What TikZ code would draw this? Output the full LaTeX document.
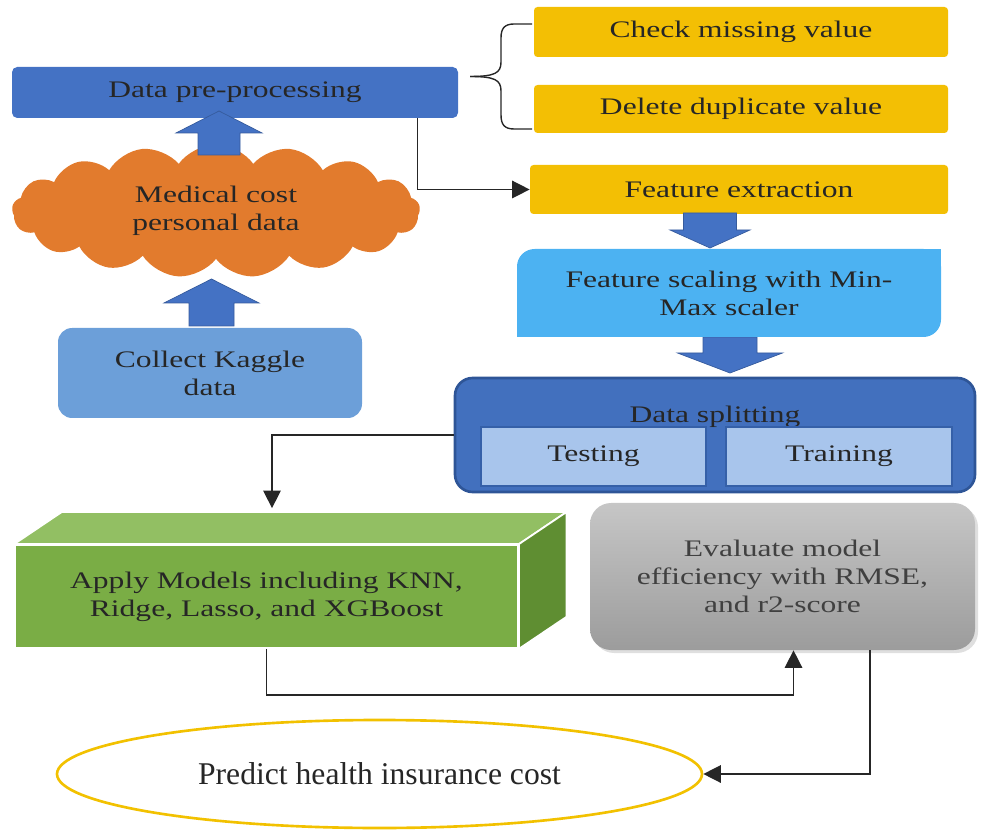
\documentclass[tikz,border=0pt]{standalone}
\usepackage{fontspec}
\setmainfont{Liberation Serif}[FakeStretch=1.33]
\newfontfamily\plainserif{Liberation Serif}
\usetikzlibrary{shapes.symbols,shapes.geometric,arrows.meta,shadows}

\definecolor{prepblue}{HTML}{4472C4}
\definecolor{stepgold}{HTML}{F3BF04}
\definecolor{cloudorange}{HTML}{E27B2D}
\definecolor{kaggleblue}{HTML}{6C9FD9}
\definecolor{scaleblue}{HTML}{4CB2F2}
\definecolor{splitblue}{HTML}{4270BE}
\definecolor{splitedge}{HTML}{2E5597}
\definecolor{partblue}{HTML}{A8C5EC}
\definecolor{partedge}{HTML}{3560A8}
\definecolor{topgreen}{HTML}{92BF63}
\definecolor{frontgreen}{HTML}{7AAD45}
\definecolor{sidegreen}{HTML}{5F8E32}
\definecolor{evaltop}{HTML}{C6C6C6}
\definecolor{evalbot}{HTML}{9C9C9C}
\definecolor{goldline}{HTML}{F2C100}

\tikzset{
    txt/.style={font=\fontsize{13.5}{16}\selectfont, text=black!85, align=center},
    box/.style={txt, rectangle, inner sep=0pt},
    line/.style={draw=black!85, line width=0.8pt, -{Triangle[length=10pt,width=10pt]}},
    fat/.style={fill=prepblue, draw=prepblue!80!black, line width=0.4pt},
}

\begin{document}
\begin{tikzpicture}
    \useasboundingbox (0,0) rectangle (19.7,16.6);

    % 数据预处理
    \node[box, fill=prepblue, rounded corners=3pt, minimum width=8.92cm, minimum height=1.02cm] (prep) at (4.70,14.75) {Data pre-processing};

    % 右侧黄色步骤
    \node[box, fill=stepgold, rounded corners=2pt, minimum width=8.28cm, minimum height=1.0cm] (check) at (14.82,15.96) {Check missing value};
    \node[box, fill=stepgold, rounded corners=2pt, minimum width=8.28cm, minimum height=0.96cm] (dup) at (14.82,14.42) {Delete duplicate value};
    \node[box, fill=stepgold, rounded corners=2pt, minimum width=8.36cm, minimum height=0.98cm] (feat) at (14.78,12.81) {Feature extraction};

    % 大括号
    \draw[line width=0.8pt, black!85] (10.64,16.12) -- (10.28,16.12) .. controls (10.08,16.12) and (10.02,16.02) .. (10.02,15.84) -- (10.02,15.36) .. controls (10.02,15.14) and (9.9,15.07) .. (9.4,15.07);
    \draw[line width=0.8pt, black!85] (10.64,14.02) -- (10.28,14.02) .. controls (10.08,14.02) and (10.02,14.12) .. (10.02,14.30) -- (10.02,14.78) .. controls (10.02,15.0) and (9.9,15.07) .. (9.4,15.07);

    % 数据云
    \node[txt, cloud, cloud puffs=17, cloud puff arc=110, aspect=3.1, fill=cloudorange, minimum width=8.16cm, minimum height=2.66cm] (cloud) at (4.32,12.38) {Medical cost\\personal data};

    % Kaggle 数据
    \node[box, fill=kaggleblue, rounded corners=8pt, minimum width=6.08cm, minimum height=1.8cm] (kaggle) at (4.2,9.14) {Collect Kaggle\\data};

    % 粗箭头: 向上
    \draw[fat] (3.96,13.5) -- (3.96,13.94) -- (3.52,13.94) -- (4.38,14.38) -- (5.24,13.94) -- (4.80,13.94) -- (4.80,13.5) -- cycle;
    \draw[fat] (3.78,10.08) -- (3.78,10.54) -- (3.28,10.54) -- (4.23,11.02) -- (5.18,10.54) -- (4.68,10.54) -- (4.68,10.08) -- cycle;

    % 粗箭头: 向下
    \draw[fat] (13.67,12.34) -- (13.67,12.0) -- (13.4,12.0) -- (14.2,11.64) -- (15.0,12.0) -- (14.73,12.0) -- (14.73,12.34) -- cycle;
    \draw[fat] (14.06,9.86) -- (14.06,9.54) -- (13.55,9.54) -- (14.6,9.14) -- (15.65,9.54) -- (15.14,9.54) -- (15.14,9.86) -- cycle;

    % 特征缩放 (左上和右下为圆角)
    \node[box, fill=scaleblue, rounded corners=10pt, minimum width=8.48cm, minimum height=1.76cm] (scale) at (14.58,10.74) {Feature scaling with Min-\\Max scaler};
    \fill[scaleblue] (scale.north east) rectangle ++(-0.4,-0.4);
    \fill[scaleblue] (scale.south west) rectangle ++(0.4,0.4);

    % 数据划分
    \node[box, fill=splitblue, draw=splitedge, line width=1.5pt, rounded corners=10pt, minimum width=10.4cm, minimum height=2.28cm] (split) at (14.3,7.9) {};
    \node[txt, anchor=base] (splitT) at (14.3,8.14) {Data splitting};
    \node[box, fill=partblue, draw=partedge, line width=1pt, minimum width=4.5cm, minimum height=1.18cm] (test) at (11.87,7.47) {Testing};
    \node[box, fill=partblue, draw=partedge, line width=1pt, minimum width=4.52cm, minimum height=1.18cm] (train) at (16.78,7.47) {Training};

    % 立体模型框
    \node[box, fill=frontgreen, draw=white, line width=1pt, minimum width=10.06cm, minimum height=2.06cm] (models) at (5.33,4.67) {Apply Models including KNN,\\Ridge, Lasso, and XGBoost};
    \filldraw[topgreen, draw=white, line width=1pt] (models.north west) -- ++(0.95,0.64) -- ([shift={(0.95,0.64)}]models.north east) -- (models.north east) -- cycle;
    \filldraw[sidegreen, draw=white, line width=1pt] (models.north east) -- ++(0.95,0.64) -- ([shift={(0.95,0.64)}]models.south east) -- (models.south east) -- cycle;

    % 模型评估
    \node[box, rounded corners=12pt, top color=evaltop, bottom color=evalbot, drop shadow={opacity=0.25, shadow xshift=0.06cm, shadow yshift=-0.06cm}, minimum width=7.7cm, minimum height=2.94cm, text=black!75] (eval) at (15.65,5.07) {Evaluate model\\efficiency with RMSE,\\and r2-score};

    % 预测
    \node[ellipse, draw=goldline, line width=1.5pt, fill=white, minimum width=12.9cm, minimum height=2.16cm, font=\plainserif\fontsize{18}{20}\selectfont, text=black!85] (predict) at (7.59,1.12) {Predict health insurance cost};

    % 连线
    \draw[line] ([xshift=-0.82cm]prep.south east) |- (feat.west);
    \draw[line] (split.west) -| ([xshift=0.11cm,yshift=0.72cm]models.north);
    \draw[line] (models.south) -- ++(0,-0.92) -| ([xshift=0.22cm]eval.south);
    \draw[line] ([xshift=1.75cm]eval.south) |- (predict.east);

\end{tikzpicture}
\end{document}
